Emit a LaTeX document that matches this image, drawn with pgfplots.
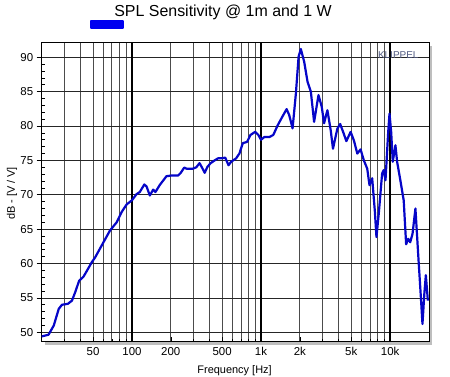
\documentclass[border=0pt]{standalone}
\usepackage{fontspec}
\setmainfont{Liberation Sans}
\usepackage{pgfplots}
\pgfplotsset{compat=1.18}
\definecolor{curveblue}{RGB}{5,5,200}
\definecolor{legblue}{RGB}{0,0,240}
\definecolor{klip}{RGB}{80,90,130}
\definecolor{shadow}{RGB}{190,190,190}
\begin{document}
\begin{tikzpicture}
\fill[shadow] (3.3bp,-3.3bp) rectangle (390.6bp,295.7bp);
\begin{axis}[
  at={(0,0)}, anchor=south west,
  scale only axis, width=387.3bp, height=299bp,
  xmode=log, log basis x=10,
  xmin=20, xmax=20000, ymin=48.63, ymax=92.12,
  axis background/.style={fill=white},
  axis line style={black, line width=0.8bp},
  /pgf/number format/assume math mode=true,
  xtick={50,100,200,500,1000,2000,5000,10000},
  xticklabels={50,100,200,500,1k,2k,5k,10k},
  minor xtick={20,30,40,50,60,70,80,90,200,300,400,500,600,700,800,900,2000,3000,4000,5000,6000,7000,8000,9000,20000},
  xmajorgrids=false, xminorgrids=true,
  minor grid style={black!70, line width=0.9bp},
  extra x ticks={100,1000,10000},
  extra x tick labels={,,},
  extra x tick style={grid=major, major grid style={black, line width=1.5bp}},
  xtick pos=bottom, xtick align=inside,
  ytick={50,55,60,65,70,75,80,85,90},
  minor y tick num=4,
  ymajorgrids=true, yminorgrids=false,
  major grid style={black!85, line width=0.75bp},
  ytick pos=left, ytick align=outside,
  major tick length=5bp, minor tick length=3bp,
  minor y tick style={xshift=3bp},
  every tick/.style={black, line width=0.6bp},
  tick label style={font=\fontsize{11.5}{13}\selectfont},
  xticklabel style={yshift=-2bp},
  xlabel={Frequency [Hz]},
  xlabel style={font=\fontsize{11}{13}\selectfont, at={(axis description cs:0.498,-0.1047)}, anchor=base},
  ylabel={dB - [V / V]},
  ylabel style={font=\fontsize{11}{13}\selectfont, at={(axis description cs:-0.0767,0.4957)}, anchor=center},
  legend style={at={(axis description cs:0.1247,1.0609)}, anchor=west, draw=none, fill=none, inner sep=0pt, outer sep=0pt, nodes={inner sep=0pt}},
  legend image code/.code={\fill[legblue] (0bp,-3.5bp) rectangle (32bp,3.5bp);},
]
\addplot[curveblue, line width=2.2bp, line join=round] coordinates {
(20,49.4) (22.6,49.65) (24.8,50.98) (27.1,53.4) (28.7,54.0) (31.9,54.14) (34.3,54.6) (36.3,55.8) (39.0,57.5) (42.2,58.1) (48.9,60.2) (51.9,60.9) (60.2,63.1) (67.6,64.8) (76.2,66.0) (83.3,67.5) (91.0,68.6) (100,69.2) (108.7,70.1) (115,70.4) (124.7,71.5) (129.8,71.2) (137.6,69.9) (146,70.75) (152,70.4) (164,71.4) (185,72.7) (202,72.8) (228,72.8) (239,73.2) (254,73.96) (264,73.8) (297,73.8) (315,74.0) (334,74.6) (349,73.96) (366,73.2) (384,74.05) (407,74.6) (437,75.0) (464,75.3) (492,75.3) (528,75.4) (560,74.3) (587,74.8) (641,75.3) (680,76.0) (722,77.5) (780,77.7) (828,78.7) (900,79.15) (953,78.7) (1000,78.0) (1060,78.4) (1159,78.4) (1244,78.7) (1345,80.1) (1452,81.25) (1578,82.46) (1652,81.6) (1755,79.65) (1862,84.75) (1954,90.1) (2033,91.2) (2158,89.36) (2291,86.45) (2431,85.0) (2576,80.6) (2786,84.5) (2952,82.8) (3077,80.4) (3266,82.3) (3464,79.4) (3608,76.7) (3899,79.6) (4100,80.3) (4350,79.0) (4581,77.8) (4941,79.15) (5240,77.9) (5566,76.0) (5902,76.6) (6256,75.0) (6646,73.8) (6918,71.4) (7260,72.4) (7606,67.7) (7834,63.85) (8166,67.3) (8668,73.1) (8928,73.6) (9204,72.1) (9660,79.15) (9888,81.8) (10185,79.15) (10478,74.8) (10990,77.2) (11324,74.8) (12000,72.1) (12735,69.2) (13300,62.8) (13800,63.6) (14300,63.1) (14900,64.3) (15700,68.0) (16600,60.45) (17300,55.1) (17800,51.2) (18400,55.6) (18900,58.3) (19600,54.6)
};
\addlegendentry{}
\node[anchor=base east, font=\fontsize{10}{12}\selectfont, text=klip] at (axis description cs:0.9819,0.9455) {KLIPPEL};
\end{axis}
\node[anchor=base, font=\fontsize{16}{18}\selectfont, inner sep=0pt] at (181.3bp,325bp) {SPL Sensitivity @ 1m and 1 W};
\pgfresetboundingbox
\path[use as bounding box] (-41.7bp,-35.3bp) rectangle (408.3bp,341.7bp);
\end{tikzpicture}
\end{document}
